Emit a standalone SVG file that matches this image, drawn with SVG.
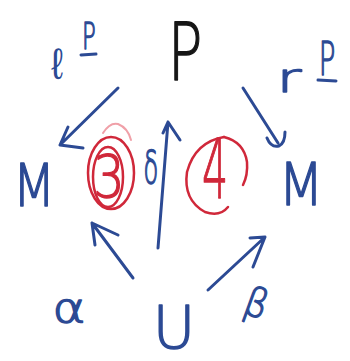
<svg xmlns="http://www.w3.org/2000/svg" width="350" height="361" viewBox="0 0 350 361">
<style>
text{font-family:"DejaVu Sans ExtraLight","DejaVu Sans",sans-serif;font-weight:200;stroke-width:1.4;stroke-linejoin:round}
.b{fill:#2c4a94;stroke:#2c4a94}
.k{fill:#161616;stroke:#161616}
.r{fill:#d0283a;stroke:#d0283a}
.ln{fill:none;stroke:#2c4a94;stroke-width:3;stroke-linecap:round;stroke-linejoin:round}
.rl{fill:none;stroke:#d0283a;stroke-width:2.5;stroke-linecap:round}
</style>
<rect width="350" height="361" fill="#ffffff"/>
<g id="node-P"><text class="k" font-size="80" text-anchor="middle" transform="translate(185,80) scale(0.72,1)">P</text></g>
<g id="label-lP">
<text class="b" font-size="44" text-anchor="middle" style="stroke-width:0" transform="translate(57,79) scale(0.85,1)">ℓ</text>
<text class="b" font-size="38" text-anchor="middle" transform="translate(89,49) scale(0.6,1)">P</text>
<line class="ln" x1="81" y1="55" x2="96" y2="54"/>
</g>
<g id="label-rP">
<text class="b" font-size="40" text-anchor="middle" transform="translate(289,92) scale(1.5,1)">r</text>
<text class="b" font-size="46" text-anchor="middle" transform="translate(327,75) scale(0.6,1)">P</text>
<line class="ln" x1="318" y1="80" x2="336" y2="81"/>
</g>
<g id="node-M-left"><text class="b" font-size="58" text-anchor="middle" transform="translate(34,206) scale(0.85,1)">M</text></g>
<g id="node-M-right"><text class="b" font-size="58" text-anchor="middle" transform="translate(301,205) scale(0.9,1)">M</text></g>
<g id="mark-3">
<text class="r" font-size="58" text-anchor="middle" transform="translate(109,197) scale(0.85,1)">3</text>
<ellipse class="rl" cx="111" cy="173" rx="23" ry="36"/>
<ellipse class="rl" cx="108" cy="177" rx="15" ry="30"/>
<path d="M103,133 Q110,122 118,124 Q128,128 131,140" fill="none" stroke="#f0a0a8" stroke-width="2" stroke-linecap="round"/>
</g>
<g id="mark-4">
<text class="r" font-size="82" text-anchor="middle" transform="translate(215,198) scale(0.5,1)">4</text>
<path class="rl" d="M224,137 Q195,142 187,172 Q183,200 205,212 Q220,217 228,207"/>
<path class="rl" d="M224,137 Q244,142 247,162 Q248,175 243,185"/>
</g>
<g id="label-delta"><text class="b" font-size="44" text-anchor="middle" transform="translate(151,183) scale(0.55,1)">δ</text></g>
<g id="node-U"><text class="b" font-size="58" text-anchor="middle" transform="translate(174,348)">U</text></g>
<g id="label-alpha"><text class="b" font-size="40" text-anchor="middle" transform="translate(69,322) scale(1.25,1)">α</text></g>
<g id="label-beta"><text class="b" font-size="40" text-anchor="middle" transform="translate(252,316) rotate(20) scale(0.9,1)">β</text></g>
<g id="connectors">
<path class="ln" d="M118,88 L60,145 M68,127 L60,145 L83,148"/>
<path class="ln" d="M243,88 L278,143 M267,138 Q271,148 279,146 Q285,143 285,132"/>
<path class="ln" d="M158,248 L168,122 M163,133 L168,122 L180,140"/>
<path class="ln" d="M133,278 L92,223 M95,245 L92,223 L118,235"/>
<path class="ln" d="M208,290 L265,237 M250,238 L265,237 L253,267"/>
</g>
</svg>
